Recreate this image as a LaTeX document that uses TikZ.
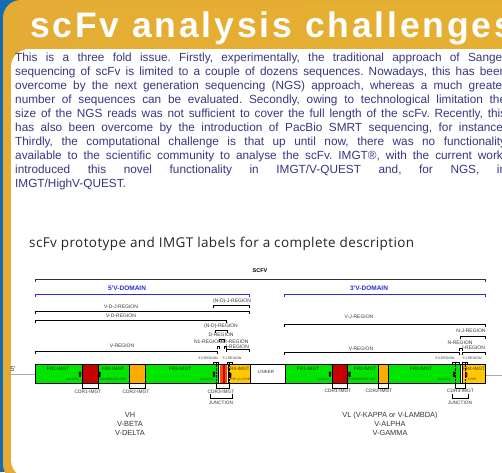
\documentclass[tikz,border=0pt]{standalone}
\usepackage{fontspec}
\setmainfont{Liberation Sans}
\newfontfamily\titlefont[LetterSpace=8]{Liberation Sans}
\newfontfamily\subfont[LetterSpace=3]{Open Sans}
\usepackage{tikz}
\usepackage{xcolor}

\definecolor{frameblue}{RGB}{22,108,178}
\definecolor{framegold}{RGB}{228,172,52}
\definecolor{titleorange}{RGB}{220,126,60}
\definecolor{bodyblue}{RGB}{55,55,130}
\definecolor{frgreen}{RGB}{0,228,0}
\definecolor{cdrred}{RGB}{200,0,0}
\definecolor{cdrorange}{RGB}{255,170,0}
\definecolor{cdrthree}{RGB}{255,72,0}
\definecolor{frgold}{RGB}{255,200,0}
\definecolor{domblue}{RGB}{45,45,215}
\definecolor{labgray}{RGB}{55,55,55}
\definecolor{linegray}{RGB}{170,170,170}

% bracket over a region: ticks down
\newcommand{\regbrk}[4][]{\draw[brk,#1] (#2,#4+3) -- (#2,#4) -- (#3,#4) -- (#3,#4+3);}
% bracket under the bar: ticks up
\newcommand{\cdrbrk}[3]{\draw[brk] (#1,#3-4) -- (#1,#3) -- (#2,#3) -- (#2,#3-4);}

\begin{document}
\begin{tikzpicture}[x=1pt,y=-1pt,
    reg/.style={font=\fontsize{5}{5}\selectfont, text=labgray, inner sep=0pt},
    sml/.style={font=\fontsize{3.4}{3.4}\selectfont, text=labgray, inner sep=0pt},
    frlab/.style={font=\fontsize{4.7}{4.7}\selectfont, text=black!70!frgreen, inner sep=0pt},
    motif/.style={font=\fontsize{3.2}{3.2}\selectfont, text=black!75, inner sep=0pt},
    cdrlab/.style={font=\fontsize{4.8}{4.8}\selectfont, text=labgray, inner sep=0pt},
    domlab/.style={font=\bfseries\fontsize{6.5}{6.5}\selectfont, text=domblue, inner sep=0pt},
    chain/.style={font=\fontsize{7.4}{9}\selectfont, text=labgray, align=center, inner sep=0pt},
    brk/.style={black, line width=0.6pt},
    seg/.style={draw=black, line width=0.7pt},
    cysmark/.style={black, rounded corners=0.8pt}]
    \useasboundingbox (0,0) rectangle (502,472);
    \clip (0,0) rectangle (502,472);
    % poster frame
    \fill[frameblue] (0,0) rectangle (502,472);
    \fill[framegold, rounded corners=18pt] (3,0) rectangle (540,482);
    \shade[left color=framegold, middle color=titleorange, right color=framegold!95!yellow] (10,3) rectangle (502,49);
    \fill[white, rounded corners=18pt] (11,49) rectangle (540,478);
    \node[anchor=base west, text=white, inner sep=0pt, font=\titlefont\bfseries\fontsize{35.5}{35.5}\selectfont] (title) at (30,37) {scFv analysis challenges};
    \node[anchor=base west, text width=491pt, align=justify, inner sep=0pt, text=bodyblue,
          font=\fontsize{11.8}{14}\selectfont] (body) at (15,61)
    {\frenchspacing\tolerance=10000\hyphenpenalty=10000
     This is a three fold issue. Firstly, experimentally, the traditional approach of Sanger\linebreak
     sequencing of scFv is limited to a couple of dozens sequences. Nowadays, this has been\linebreak
     overcome by the next generation sequencing (NGS) approach, whereas a much greater\linebreak
     number of sequences can be evaluated. Secondly, owing to technological limitation the\linebreak
     size of the NGS reads was not sufficient to cover the full length of the scFv. Recently, this\linebreak
     has also been overcome by the introduction of PacBio SMRT sequencing, for instance.\linebreak
     Thirdly, the computational challenge is that up until now, there was no functionality\linebreak
     available to the scientific community to analyse the scFv. IMGT®, with the current work,\linebreak
     introduced this novel functionality in IMGT/V-QUEST and, for NGS, in\linebreak
     IMGT/HighV-QUEST.};
    \node[anchor=base west, inner sep=0pt, text=black!85, font=\subfont\fontsize{13.5}{13.5}\selectfont] (subtitle) at (29,247) {scFv prototype and IMGT labels for a complete description};

    % domains and regions
    \node[font=\bfseries\fontsize{5.5}{5.5}\selectfont, inner sep=0pt] (scfv) at (260,271) {SCFV};
    \regbrk[black!80, line width=0.9pt]{35}{485}{279}
    \node[domlab] (vdom5) at (127,288) {5'V-DOMAIN};
    \regbrk[domblue, line width=0.8pt]{35}{249}{294}
    \node[domlab] (vdom3) at (369,288) {3'V-DOMAIN};
    \regbrk[domblue, line width=0.8pt]{284}{485}{294}
    \node[reg] (ndj) at (232,301) {(N-D)-J-REGION};
    \regbrk{213}{249}{305}
    \node[reg] (vdj) at (121,307) {V-D-J-REGION};
    \regbrk{35}{249}{311}
    \node[reg] (vd) at (121,316) {V-D-REGION};
    \regbrk{35}{226}{320}
    \node[reg] (vj) at (359,317) {V-J-REGION};
    \regbrk{284}{485}{324}
    \node[reg] (nd) at (221,326) {(N-D)-REGION};
    \regbrk{215}{227}{330}
    \node[reg] (dreg) at (221,335) {D-REGION};
    \regbrk{219.5}{224}{339}
    \node[reg] (none) at (208,342) {N1-REGION};
    \regbrk{217.5}{219.5}{346}
    \node[reg] (ntwo) at (234.5,342) {N2-REGION};
    \regbrk{224}{226}{346}
    \node[reg] (jl) at (237,347) {J-REGION};
    \regbrk{226}{249}{349}
    \node[reg] (vl) at (122,346) {V-REGION};
    \regbrk{35}{217.5}{351}
    \node[reg] (nj) at (471,331) {N-J-REGION};
    \regbrk{460}{485}{336}
    \node[reg] (nreg) at (460,343) {N-REGION};
    \regbrk{459.5}{462}{348}
    \node[reg] (jr) at (473,348) {J-REGION};
    \regbrk{462}{485}{352}
    \node[reg] (vr) at (361,349) {V-REGION};
    \regbrk{284}{459.5}{352}
    \node[sml] (vendl) at (208,358) {3'V-REGION};
    \regbrk{213}{218}{362}
    \node[sml] (jstartl) at (232,358) {5'J-REGION};
    \regbrk{227}{232}{362}
    \node[sml] (vendr) at (445,358) {3'V-REGION};
    \regbrk{452}{459}{362}
    \node[sml] (jstartr) at (472,358) {5'J-REGION};
    \regbrk{462}{467}{362}

    % the scFv bar
    \draw[linegray, line width=0.8pt] (8,374) -- (35,374);
    \draw[linegray, line width=0.8pt] (485,375) -- (502,375);
    \node[font=\fontsize{7}{7}\selectfont, text=labgray, inner sep=0pt] (five) at (13,369) {5’};
    \filldraw[seg, fill=frgreen] (35,364) rectangle (82,383);
    \filldraw[seg, fill=cdrred] (82,364) rectangle (98,383);
    \filldraw[seg, fill=frgreen] (98,364) rectangle (129,383);
    \filldraw[seg, fill=cdrorange] (129,364) rectangle (145,383);
    \filldraw[seg, fill=frgreen] (145,364) rectangle (218,383);
    \fill[cdrthree] (219.5,364) rectangle (222.5,383);
    \fill[cdrred] (222.5,364) rectangle (224.5,383);
    \fill[cdrthree] (224.5,364) rectangle (226.5,383);
    \draw[seg] (218,364) rectangle (228,383);
    \filldraw[seg, fill=frgold] (228,364) rectangle (250,383);
    \filldraw[seg, fill=white] (250,364) rectangle (285,383);
    \filldraw[seg, fill=frgreen] (285,364) rectangle (332,383);
    \filldraw[seg, fill=cdrred] (332,364) rectangle (347,383);
    \filldraw[seg, fill=frgreen] (347,364) rectangle (378,383);
    \filldraw[seg, fill=cdrorange] (378,364) rectangle (388,383);
    \filldraw[seg, fill=frgreen] (388,364) rectangle (460,383);
    \filldraw[seg, fill=white] (460,364) rectangle (462,383);
    \filldraw[seg, fill=frgold] (462,364) rectangle (485,383);
    \foreach \mx in {80,99.5,214,330,349.5,454}
      \fill[cysmark] (\mx-1.2,371.5) rectangle (\mx+1.2,377);
    \fill[cysmark] (229,372.5) rectangle (231.4,378);
    \fill[cysmark, fill=cdrred!80!black] (465,372) rectangle (467.4,377.5);
    \foreach \dx in {216,229,455,465}
      \draw[black, densely dotted, line width=0.4pt] (\dx,362) -- (\dx,388);

    % labels in the bar
    \node[frlab] (fr1l) at (58,369) {FR1-IMGT};
    \node[motif] (cys1l) at (72.5,379) {1st-CYS};
    \node[frlab] (fr2l) at (113,369) {FR2-IMGT};
    \node[motif] (trpl) at (112.5,379) {CONSERVED-TRP};
    \node[frlab] (fr3l) at (180,369) {FR3-IMGT};
    \node[motif] (cys2l) at (207,379) {2nd-CYS};
    \node[frlab, text=black!70!frgold] (fr4l) at (238.5,369) {FR4-IMGT};
    \node[motif] (jtrp) at (238.5,379) {J-TRP or J-PHE};
    \node[font=\fontsize{4.5}{4.5}\selectfont, text=labgray, inner sep=0pt] (linker) at (266,372) {LINKER};
    \node[frlab] (fr1r) at (308,369) {FR1-IMGT};
    \node[motif] (cys1r) at (323,379) {1st-CYS};
    \node[frlab] (fr2r) at (365,369) {FR2-IMGT};
    \node[motif] (trpr) at (362,379) {CONSERVED-TRP};
    \node[frlab] (fr3r) at (421,369) {FR3-IMGT};
    \node[motif] (cys2r) at (444,379) {2nd-CYS};
    \node[frlab, text=black!70!frgold] (fr4r) at (474,369) {FR4-IMGT};
    \node[motif] (jphe) at (472,379) {J-PHE};

    % CDR and junction brackets
    \cdrbrk{82}{98}{388}
    \node[cdrlab] (cdr1l) at (88,392) {CDR1-IMGT};
    \cdrbrk{129}{145}{388}
    \node[cdrlab] (cdr2l) at (136,392) {CDR2-IMGT};
    \cdrbrk{216}{229}{388}
    \node[cdrlab] (cdr3l) at (221,392) {CDR3-IMGT};
    \cdrbrk{210}{232}{398}
    \node[cdrlab] (juncl) at (221,403) {JUNCTION};
    \cdrbrk{332}{347}{388}
    \node[cdrlab] (cdr1r) at (338,391) {CDR1-IMGT};
    \cdrbrk{378}{388}{388}
    \node[cdrlab] (cdr2r) at (379,391) {CDR2-IMGT};
    \cdrbrk{455}{465}{388}
    \node[cdrlab] (cdr3r) at (460.5,391) {CDR3-IMGT};
    \cdrbrk{452}{468}{398}
    \node[cdrlab] (juncr) at (460,403) {JUNCTION};

    % chain types
    \node[chain] (heavy) at (130,424) {VH\\V-BETA\\V-DELTA};
    \node[chain] (light) at (390,424) {VL (V-KAPPA or V-LAMBDA)\\V-ALPHA\\V-GAMMA};
\end{tikzpicture}
\end{document}
